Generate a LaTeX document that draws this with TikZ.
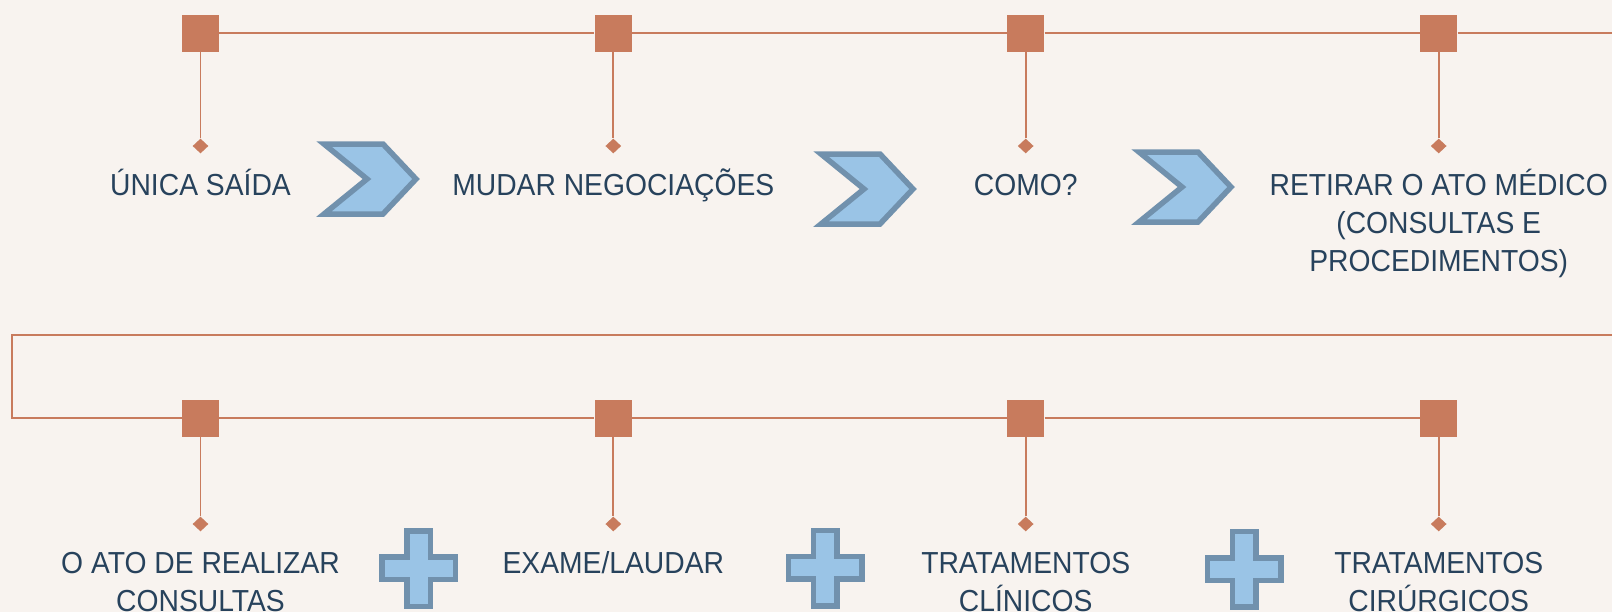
\documentclass[tikz,border=0pt]{standalone}
\usepackage{fontspec}
\setmainfont{Liberation Sans}[FakeStretch=0.93]
\usetikzlibrary{shapes.geometric}
\definecolor{bgc}{HTML}{F8F3EF}
\definecolor{orc}{HTML}{C87B5D}
\definecolor{bfill}{HTML}{9AC4E6}
\definecolor{bstroke}{HTML}{7191AD}
\definecolor{txc}{HTML}{27425C}
\newcommand\chev[2]{\draw[blueshape] (#1+3,#2+3) -- (#1+62,#2+3) -- (#1+95,#2+38) -- (#1+62,#2+73) -- (#1+3,#2+73) -- (#1+46,#2+38) -- cycle;}
\newcommand\plusmark[2]{\draw[blueshape] (#1-11.75,#2-37.3) -- (#1+11.75,#2-37.3) -- (#1+11.75,#2-11.25) -- (#1+36.7,#2-11.25) -- (#1+36.7,#2+11.25) -- (#1+11.75,#2+11.25) -- (#1+11.75,#2+38) -- (#1-11.75,#2+38) -- (#1-11.75,#2+11.25) -- (#1-36.7,#2+11.25) -- (#1-36.7,#2-11.25) -- (#1-11.75,#2-11.25) -- cycle;}
\begin{document}
\begin{tikzpicture}[x=0.5pt,y=-0.5pt,
  sq/.style={rectangle,fill=orc,minimum size=18.5pt,inner sep=0pt},
  dia/.style={diamond,fill=orc,minimum width=8pt,minimum height=7.5pt,inner sep=0pt},
  conn/.style={draw=orc,line width=1.1pt,line join=miter},
  stem/.style={draw=orc,line width=0.9pt},
  lbl/.style={text=txc,font=\fontsize{15.2}{19.15}\selectfont,align=center,inner sep=0pt,anchor=base},
  blueshape/.style={fill=bfill,draw=bstroke,line width=2.75pt,line join=miter}]
\useasboundingbox (0,0) rectangle (1612,612);
\fill[bgc] (0,0) rectangle (1612,612);
% top row
\node[sq] (s1) at (200.5,33.3) {};
\node[sq] (s2) at (613.3,33.3) {};
\node[sq] (s3) at (1025.7,33.3) {};
\node[sq] (s4) at (1438.7,33.3) {};
\node[dia] (d1) at (200.5,146) {};
\node[dia] (d2) at (613.3,146) {};
\node[dia] (d3) at (1025.7,146) {};
\node[dia] (d4) at (1438.7,146) {};
% bottom row
\node[sq] (b1) at (200.5,418.3) {};
\node[sq] (b2) at (613.3,418.3) {};
\node[sq] (b3) at (1025.7,418.3) {};
\node[sq] (b4) at (1438.7,418.3) {};
\node[dia] (e1) at (200.5,524) {};
\node[dia] (e2) at (613.3,524) {};
\node[dia] (e3) at (1025.7,524) {};
\node[dia] (e4) at (1438.7,524) {};
\coordinate (tr) at (1612,33.3);
\coordinate (br) at (1612,334.7);
\coordinate (bl) at (12.3,334.7);
\coordinate (bl2) at (12.3,418.3);
\draw[conn] (s1) -- (s2) -- (s3) -- (s4) -- (tr);
\draw[conn] (br) -- (bl) -- (bl2) -- (b1) -- (b2) -- (b3) -- (b4);
\foreach \a/\b in {s1/d1,s2/d2,s3/d3,s4/d4,b1/e1,b2/e2,b3/e3,b4/e4}
  \draw[stem] (\a) -- (\b);
% labels (base anchor = baseline of the last line)
\node[lbl] (t1) at (200.5,195) {ÚNICA SAÍDA};
\node[lbl] (t2) at (613.3,195) {MUDAR NEGOCIAÇÕES};
\node[lbl] (t3) at (1025.7,195) {COMO?};
\node[lbl] (t4) at (1438.7,271.6) {RETIRAR O ATO MÉDICO\\(CONSULTAS E\\PROCEDIMENTOS)};
\node[lbl] (u1) at (200.5,611.6) {O ATO DE REALIZAR\\CONSULTAS};
\node[lbl] (u2) at (613.3,573.3) {EXAME/LAUDAR};
\node[lbl] (u3) at (1025.7,611.6) {TRATAMENTOS\\CLÍNICOS};
\node[lbl] (u4) at (1438.7,611.6) {TRATAMENTOS\\CIRÚRGICOS};
% chevrons and pluses
\chev{321}{141}
\chev{818}{151}
\chev{1136}{149}
\plusmark{418.8}{568.3}
\plusmark{825.25}{567.8}
\plusmark{1244.25}{569}
\end{tikzpicture}
\end{document}
